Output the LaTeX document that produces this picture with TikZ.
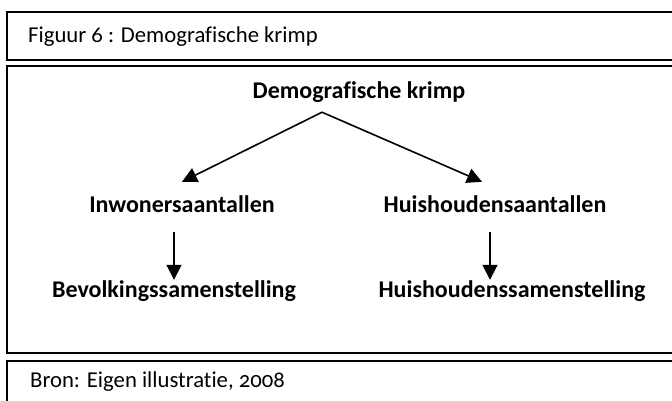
\documentclass[tikz,border=0pt]{standalone}
\usepackage{fontspec}
\setmainfont{Carlito}[Numbers=OldStyle,Ligatures=NoCommon]
\usetikzlibrary{arrows.meta,positioning}
\begin{document}
\begin{tikzpicture}[x=1pt,y=-1pt,>={Triangle[length=15pt,width=15pt]},
  kop/.style={font=\fontsize{24}{28}\selectfont\bfseries,inner sep=0pt,
    text height=17pt,text depth=0pt,anchor=base},
  tekst/.style={font=\fontsize{22.7}{27}\selectfont,inner sep=0pt,anchor=base west},
  kader/.style={draw,line width=1.8pt},
  pijl/.style={->,line width=1.6pt}]
  \useasboundingbox (0,0) rectangle (672,401);
  \clip (0,0) rectangle (672,401);

  % Kaders
  \draw[kader] (7,12) rectangle (700,60);
  \draw[kader] (7,66) rectangle (700,353);
  \draw[kader] (7,361) rectangle (700,430);

  % Titel en bron
  \node[tekst] (titel) at (28,43) {Figuur 6 : Demografische krimp};
  \node[tekst] (bron) at (30,387) {Bron: Eigen illustratie, 2008};

  % Begrippen
  \node[kop] (krimp) at (359,99) {Demografische krimp};
  \node[kop] (inw) at (182,212) {Inwonersaantallen};
  \node[kop] (hh) at (495,212) {Huishoudensaantallen};
  \node[kop] (bev) at (174,297) {Bevolkingssamenstelling};
  \node[kop] (hhs) at (512,297) {Huishoudenssamenstelling};
  \coordinate (top) at ([xshift=-37pt,yshift=-13pt]krimp.south);

  % Pijlen
  \draw[pijl] (top) -- ([yshift=13pt]inw.north);
  \draw[pijl] (top) -- ([xshift=-13pt,yshift=13pt]hh.north);
  \draw[pijl,<-] (bev.north) -- ++(0,-48);
  \draw[pijl,<-] ([xshift=-22pt]hhs.north) -- ++(0,-48);
\end{tikzpicture}
\end{document}
